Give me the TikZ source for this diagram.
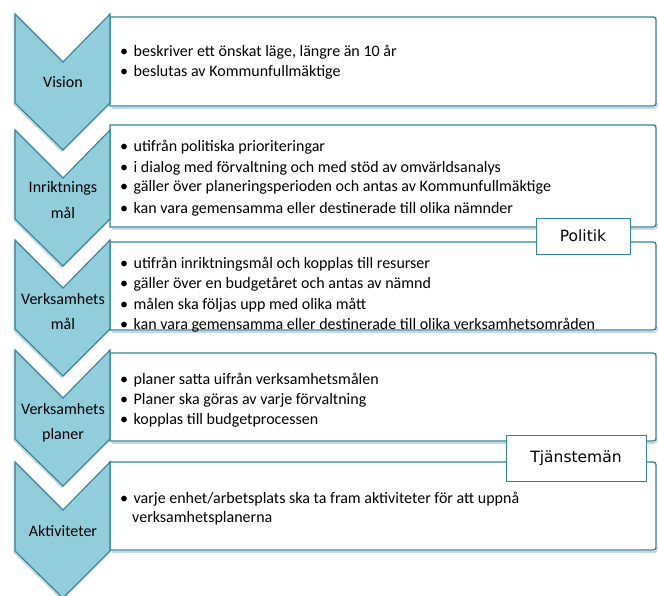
\documentclass[tikz,border=0pt]{standalone}
\usepackage{fontspec}
\setmainfont{Carlito}
\newfontfamily\labfont{DejaVu Sans}
\definecolor{teal1}{RGB}{49,132,155}
\definecolor{chevfill}{RGB}{146,205,220}
\definecolor{shad}{RGB}{205,214,218}
\tikzset{
  chevline/.style={draw=teal1, line width=1.1pt, fill=chevfill, line join=miter},
  chevshadow/.style={fill=shad, draw=none},
  boxline/.style={draw=teal1, line width=1.3pt, fill=white},
  boxshadow/.style={draw=shad, line width=1.6pt},
  tagbox/.style={draw=teal1, line width=0.8pt, fill=white, inner sep=0pt},
  bul/.style={anchor=base west, inner sep=0pt, font=\fontsize{16}{18}\selectfont},
  chevlab/.style={anchor=base, inner sep=0pt, font=\fontsize{16}{18}\selectfont},
  taglab/.style={inner sep=0pt, font=\labfont\fontsize{15.5}{17}\selectfont}
}
\newcommand{\bx}[2]{%
  \draw[boxshadow] (112,#2+2) -- (652,#2+2) .. controls (657,#2+2) .. (657,#2-3);
  \draw[boxline] (110,#1) -- (650,#1) .. controls (656,#1) .. (656,#1+6)
     -- (656,#2-6) .. controls (656,#2) .. (650,#2) -- (110,#2) -- cycle;}
\newcommand{\chev}[1]{%
  \fill[chevshadow] (13.5,#1+2) -- (61.5,#1+50) -- (108.5,#1+2) -- (108.5,#1+91) -- (61.5,#1+138) -- (13.5,#1+91) -- cycle;
  \draw[chevline] (15,#1) -- (63,#1+48) -- (110,#1) -- (110,#1+89) -- (63,#1+136) -- (15,#1+89) -- cycle;}
\begin{document}
\begin{tikzpicture}[x=1pt,y=-1pt]
\useasboundingbox (0,0) rectangle (658,596);
% right boxes
\bx{17}{106}
\bx{125}{227}
\bx{242}{330}
\bx{353}{441}
\bx{462}{550}
% chevrons
\chev{14}
\chev{130}
\chev{240}
\chev{350}
\chev{462}
% chevron labels
\node[chevlab] (l1) at (63,88) {Vision};
\node[chevlab] (l2a) at (63,193) {Inriktnings};
\node[chevlab] (l2b) at (63,218) {mål};
\node[chevlab] (l3a) at (63,304) {Verksamhets};
\node[chevlab] (l3b) at (63,329) {mål};
\node[chevlab] (l4a) at (63,414) {Verksamhets};
\node[chevlab] (l4b) at (63,439) {planer};
\node[chevlab] (l5) at (63,536) {Aktiviteter};
% bullets
\newcommand{\bl}[3]{\node[bul] (#1) at (120,#2) {•\hspace{5.5pt}#3};}
\bl{b11}{57}{beskriver ett önskat läge, längre än 10 år}
\bl{b12}{77}{beslutas av Kommunfullmäktige}
\bl{b21}{152}{utifrån politiska prioriteringar}
\bl{b22}{172}{i dialog med förvaltning och med stöd av omvärldsanalys}
\bl{b23}{192}{gäller över planeringsperioden och antas av Kommunfullmäktige}
\bl{b24}{213}{kan vara gemensamma eller destinerade till olika nämnder}
\bl{b31}{268}{utifrån inriktningsmål och kopplas till resurser}
\bl{b32}{288}{gäller över en budgetåret och antas av nämnd}
\bl{b33}{309}{målen ska följas upp med olika mått}
\bl{b34}{329}{kan vara gemensamma eller destinerade till olika verksamhetsområden}
\bl{b41}{384}{planer satta uifrån verksamhetsmålen}
\bl{b42}{404}{Planer ska göras av varje förvaltning}
\bl{b43}{424}{kopplas till budgetprocessen}
\bl{b51}{503}{varje enhet/arbetsplats ska ta fram aktiviteter för att uppnå}
\node[bul] (b52) at (132,522) {verksamhetsplanerna};
% tag boxes
\node[tagbox, minimum width=94pt, minimum height=36pt] (pol) at (583,236) {};
\node[taglab] (poltxt) at (pol.center) {Politik};
\node[tagbox, minimum width=140pt, minimum height=46pt] (tj) at (576,458) {};
\node[taglab] (tjtxt) at (tj.center) {Tjänstemän};
\end{tikzpicture}
\end{document}
